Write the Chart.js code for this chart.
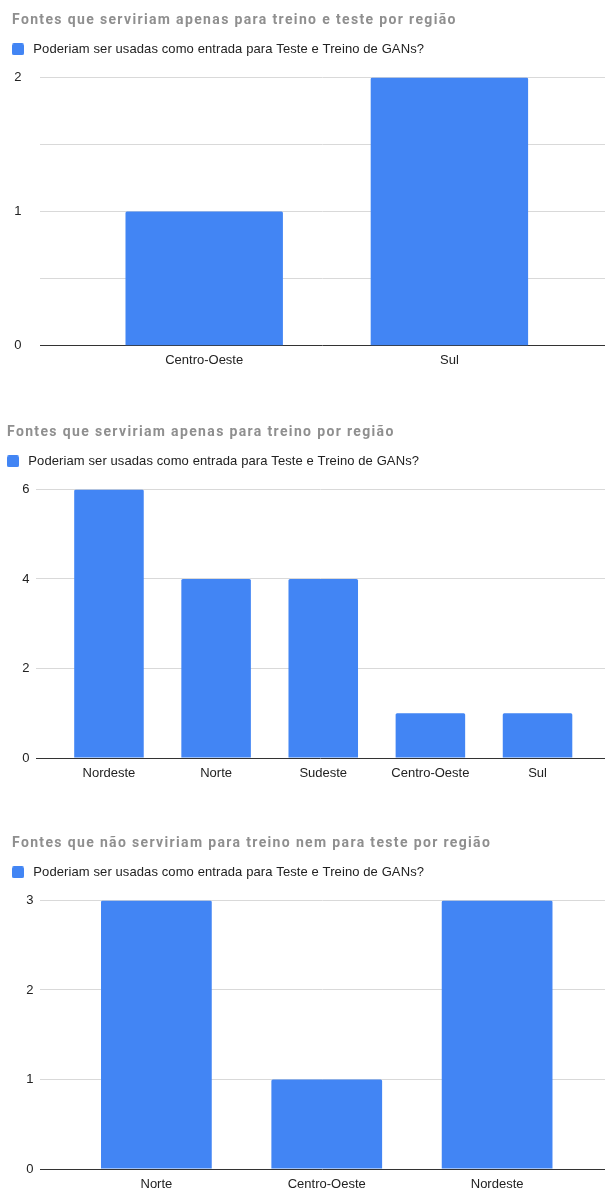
<!DOCTYPE html>
<html>
<head>
<meta charset="utf-8">
<script src="https://cdn.jsdelivr.net/npm/chart.js@4/dist/chart.umd.min.js"></script>
<style>
  html, body { margin: 0; padding: 0; background: #fff; overflow: hidden; }
  body { width: 605px; height: 1189px; position: relative; }
  .box { position: absolute; left: 0; width: 605px; height: 370px; }
</style>
</head>
<body>
<div class="box" style="top:0px; height:372px"><canvas id="c1"></canvas></div>
<div class="box" style="top:412px"><canvas id="c2"></canvas></div>
<div class="box" style="top:823px"><canvas id="c3"></canvas></div>

<script>
// data
const seriesLabel = "Poderiam ser usadas como entrada para Teste e Treino de GANs?";

const title1 = "Fontes que serviriam apenas para treino e teste por região";
const regions1 = ["Centro-Oeste", "Sul"];
const values1 = [1, 2];

const title2 = "Fontes que serviriam apenas para treino por região";
const regions2 = ["Nordeste", "Norte", "Sudeste", "Centro-Oeste", "Sul"];
const values2 = [6, 4, 4, 1, 1];

const title3 = "Fontes que não serviriam para treino nem para teste por região";
const regions3 = ["Norte", "Centro-Oeste", "Nordeste"];
const values3 = [3, 1, 3];

const barColor = "#4285f4";

Chart.defaults.font.family = '"Liberation Sans", Arial, sans-serif';
Chart.defaults.font.size = 13;
Chart.defaults.color = "#222";

// legend marker: small rounded square
const marker = document.createElement("canvas");
marker.width = 12;
marker.height = 12;
const mctx = marker.getContext("2d");
mctx.fillStyle = barColor;
mctx.beginPath();
mctx.roundRect(0, 0, 12, 12, 2);
mctx.fill();

const SHIFT = 2.8; // legend starts a bit left of the title

// push the legend down a little so the plot starts lower,
// space out the title letters like the original
const boxTweaks = {
  id: "boxTweaks",
  beforeInit(chart) {
    const fit = chart.legend.fit;
    chart.legend.fit = function () {
      fit.bind(chart.legend)();
      this.height += 11.5;
    };
    const ldraw = chart.legend.draw;
    chart.legend.draw = function () {
      const c = this.ctx;
      c.save();
      c.letterSpacing = "0.1px";
      ldraw.bind(this)();
      c.restore();
    };
    const draw = chart.titleBlock.draw;
    chart.titleBlock.draw = function () {
      const c = this.ctx;
      c.save();
      c.translate(SHIFT, 0);
      c.letterSpacing = "1.35px";
      draw.bind(this)();
      c.restore();
    };
  }
};

// shrink the category range inside the plot (gridlines keep full width)
const xInset = {
  id: "xInset",
  afterLayout(chart, args, opts) {
    const x = chart.scales.x;
    x.left += opts.left;
    x.right -= opts.right;
    x.width = x.right - x.left;
    x.configure();
  }
};

function makeChart(id, title, labels, values, cfg) {
  const ctx = document.getElementById(id).getContext("2d");
  return new Chart(ctx, {
    type: "bar",
    data: {
      labels: labels,
      datasets: [{
        label: seriesLabel,
        data: values,
        backgroundColor: barColor,
        borderRadius: 1.5,
        categoryPercentage: 1,
        barPercentage: cfg.bar
      }]
    },
    plugins: [boxTweaks, xInset],
    options: {
      responsive: true,
      maintainAspectRatio: false,
      animation: false,
      layout: { padding: { left: cfg.padLeft - SHIFT, right: 0, top: 0, bottom: 0 } },
      plugins: {
        title: {
          display: true,
          text: title,
          align: "start",
          color: "#8f8f8f",
          font: { family: "Roboto", size: 14, weight: "bold" },
          padding: { top: 12.3, bottom: 13.8 }
        },
        legend: {
          display: true,
          align: "start",
          labels: {
            usePointStyle: true,
            pointStyle: marker,
            pointStyleWidth: 17.6,
            boxHeight: 12,
            padding: 0,
            color: "#222",
            font: { size: 13 }
          }
        },
        tooltip: { enabled: false },
        xInset: { left: cfg.inset[0], right: cfg.inset[1] }
      },
      scales: {
        x: {
          offset: true,
          grid: { display: false, drawTicks: false },
          border: { display: false },
          ticks: { padding: 7.2, color: "#222", maxRotation: 0 },
          afterFit(scale) { scale.height = 24; }
        },
        y: {
          min: 0,
          max: cfg.max,
          grid: {
            drawTicks: false,
            color: (c) => c.tick && c.tick.value === 0 ? "#333333" : "#d9d9d9"
          },
          border: { display: false },
          ticks: {
            stepSize: cfg.step,
            padding: cfg.tickPad,
            color: "#222",
            callback: (v) => Number.isInteger(v) ? v : ""
          },
          afterFit(scale) { scale.width = cfg.axisWidth + SHIFT; }
        }
      }
    }
  });
}

makeChart("c1", title1, regions1, values1,
  { max: 2, step: 0.5, bar: 0.642, padLeft: 12, axisWidth: 28, tickPad: 18.5, inset: [41.6, 33] });
makeChart("c2", title2, regions2, values2,
  { max: 6, step: 2, bar: 0.649, padLeft: 7, axisWidth: 28.5, tickPad: 6, inset: [19.9, 13.9] });
makeChart("c3", title3, regions3, values3,
  { max: 3, step: 1, bar: 0.65, padLeft: 12, axisWidth: 28, tickPad: 6.5, inset: [31.2, 22.7] });
</script>
</body>
</html>
